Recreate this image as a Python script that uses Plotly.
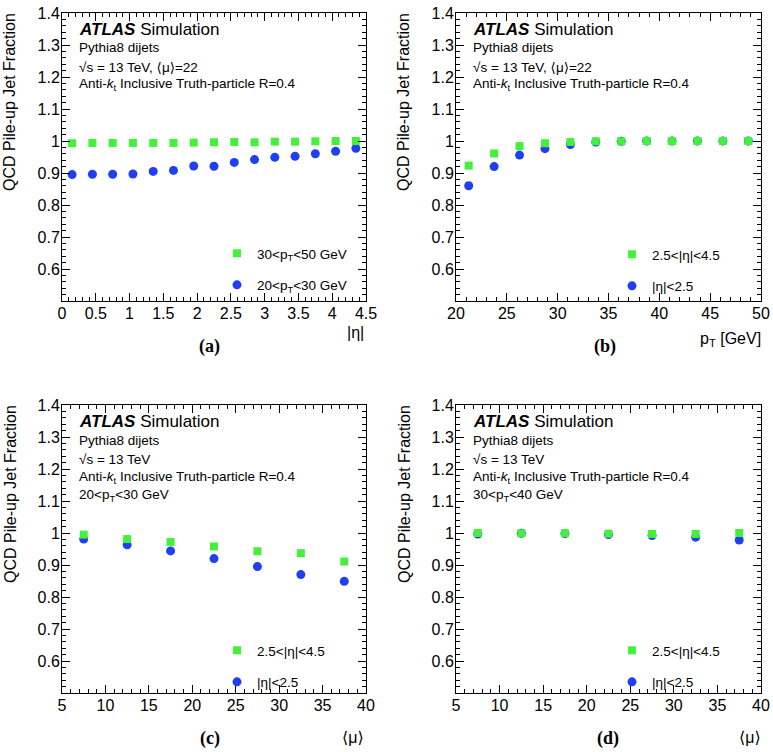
import plotly.graph_objects as go

# ---------------- data ----------------
eta_centers = [0.15, 0.45, 0.75, 1.05, 1.35, 1.65, 1.95, 2.25, 2.55, 2.85, 3.15, 3.45, 3.75, 4.05, 4.35]
eta_pt30_50 = [0.993, 0.994, 0.994, 0.994, 0.994, 0.994, 0.995, 0.996, 0.997, 0.996, 0.998, 0.998, 0.999, 1.000, 1.000]
eta_pt20_30 = [0.895, 0.896, 0.896, 0.897, 0.905, 0.908, 0.922, 0.921, 0.933, 0.942, 0.949, 0.952, 0.960, 0.968, 0.977]

pt_centers = [21.25, 23.75, 26.25, 28.75, 31.25, 33.75, 36.25, 38.75, 41.25, 43.75, 46.25, 48.75]
pt_fwd = [0.923, 0.961, 0.984, 0.993, 0.997, 0.999, 0.999, 1.000, 1.000, 1.000, 1.000, 1.000]
pt_cen = [0.860, 0.920, 0.956, 0.976, 0.989, 0.997, 0.999, 1.000, 1.000, 1.000, 1.000, 1.000]

mu_centers = [7.5, 12.5, 17.5, 22.5, 27.5, 32.5, 37.5]
mu_fwd_pt20_30 = [0.995, 0.981, 0.972, 0.958, 0.943, 0.937, 0.911]
mu_cen_pt20_30 = [0.981, 0.963, 0.944, 0.920, 0.895, 0.870, 0.849]
mu_fwd_pt30_40 = [1.000, 0.999, 0.999, 0.998, 0.997, 0.997, 1.000]
mu_cen_pt30_40 = [0.997, 0.999, 0.998, 0.995, 0.992, 0.987, 0.978]

y_tickvals = [0.6, 0.7, 0.8, 0.9, 1.0, 1.1, 1.2, 1.3, 1.4]
y_ticktext = ["0.6", "0.7", "0.8", "0.9", "1", "1.1", "1.2", "1.3", "1.4"]

GREEN = "#45f03c"
BLUE = "#1f3ff0"
FONT = "Liberation Sans, Arial, sans-serif"
SERIF = "Liberation Serif, Times New Roman, serif"
MU = '<span style="font-family:DejaVu Sans">⟨</span>μ<span style="font-family:DejaVu Sans">⟩</span>'

W, H = 773, 752


def px(x):
    return x / W


def py(y):
    return 1 - y / H


fig = go.Figure()

panels = [
    ("x", "y", "legend", eta_centers, eta_pt30_50, eta_pt20_30,
     "30&lt;p<sub>T</sub>&lt;50 GeV", "20&lt;p<sub>T</sub>&lt;30 GeV"),
    ("x2", "y2", "legend2", pt_centers, pt_fwd, pt_cen,
     "2.5&lt;|η|&lt;4.5", "|η|&lt;2.5"),
    ("x3", "y3", "legend3", mu_centers, mu_fwd_pt20_30, mu_cen_pt20_30,
     "2.5&lt;|η|&lt;4.5", "|η|&lt;2.5"),
    ("x4", "y4", "legend4", mu_centers, mu_fwd_pt30_40, mu_cen_pt30_40,
     "2.5&lt;|η|&lt;4.5", "|η|&lt;2.5"),
]

for i, (xa, ya, lg, xs, g, b, gn, bn) in enumerate(panels):
    fig.add_trace(go.Scatter(
        x=xs, y=b, mode="markers", xaxis=xa, yaxis=ya, legend=lg,
        name=bn, legendgroup=f"b{i}", legendrank=2,
        marker=dict(symbol="circle", size=9, color=BLUE),
    ))
    fig.add_trace(go.Scatter(
        x=xs, y=g, mode="markers", xaxis=xa, yaxis=ya, legend=lg,
        name=gn, legendgroup=f"g{i}", legendrank=1,
        marker=dict(symbol="square", size=8, color=GREEN),
    ))

x_dom_l = [px(62), px(366)]
x_dom_r = [px(456), px(761)]
y_dom_t = [py(301), py(13)]
y_dom_b = [py(693), py(405)]


def xaxis(dom, rng, dtick, mdtick, anchor):
    return dict(
        domain=dom, range=rng, anchor=anchor, dtick=dtick, tick0=rng[0],
        tickmode="linear", automargin=False,
        ticks="inside", ticklen=8, tickwidth=1, tickcolor="black",
        minor=dict(dtick=mdtick, tick0=rng[0], ticks="inside", ticklen=4,
                   tickwidth=1, tickcolor="black"),
        showline=True, linecolor="black", linewidth=1, mirror="allticks",
        showgrid=False, zeroline=False,
        tickfont=dict(family=FONT, size=16, color="black"),
        ticklabelstandoff=-2,
    )


def yaxis(dom, anchor):
    return dict(
        domain=dom, range=[0.5, 1.4], anchor=anchor, automargin=False,
        tickmode="array", tickvals=y_tickvals, ticktext=y_ticktext,
        ticks="inside", ticklen=8, tickwidth=1, tickcolor="black",
        minor=dict(dtick=0.02, tick0=0.5, ticks="inside", ticklen=4,
                   tickwidth=1, tickcolor="black"),
        showline=True, linecolor="black", linewidth=1, mirror="allticks",
        showgrid=False, zeroline=False,
        tickfont=dict(family=FONT, size=16, color="black"),
        ticklabelstandoff=-2,
    )


def legend(xl, ytop):
    return dict(
        x=px(xl), y=py(ytop), xanchor="left", yanchor="top",
        bgcolor="rgba(0,0,0,0)", borderwidth=0,
        font=dict(family=FONT, size=13.5, color="black"),
        traceorder="grouped", tracegroupgap=11, itemwidth=30,
    )


annotations = []


def txt(x, y, text, size=13, xanchor="left", font=FONT, angle=0):
    annotations.append(dict(
        x=px(x), y=py(y), xref="paper", yref="paper", text=text,
        showarrow=False, xanchor=xanchor, yanchor="middle", textangle=angle,
        font=dict(family=font, size=size, color="black"),
    ))


def panel_text(xl, top, lines):
    txt(xl, top + 16, "<b><i>ATLAS</i></b> Simulation", size=17)
    offs = [35, 54, 72, 90]
    for line, o in zip(lines, offs):
        txt(xl, top + o, line, size=13.5)


antikt = "Anti-<i>k</i><sub>t</sub> Inclusive Truth-particle R=0.4"
panel_text(77, 13, ["Pythia8 dijets", "√s = 13 TeV, " + MU + "=22", antikt])
panel_text(471, 13, ["Pythia8 dijets", "√s = 13 TeV, " + MU + "=22", antikt])
panel_text(77, 405, ["Pythia8 dijets", "√s = 13 TeV", antikt, "20&lt;p<sub>T</sub>&lt;30 GeV"])
panel_text(471, 405, ["Pythia8 dijets", "√s = 13 TeV", antikt, "30&lt;p<sub>T</sub>&lt;40 GeV"])

# axis titles
for xc, yc in [(10, 102), (404, 102), (10, 494), (404, 494)]:
    txt(xc, yc, "QCD Pile-up Jet Fraction", size=16, xanchor="center", angle=-90)

txt(366, 333, "|η|", size=16, xanchor="right")
txt(763, 339, "p<sub>T</sub> [GeV]", size=16, xanchor="right")
txt(366, 737, MU, size=16, xanchor="right")
txt(763, 737, MU, size=16, xanchor="right")

# panel labels
txt(209, 346, "<b>(a)</b>", size=18, xanchor="center", font=SERIF)
txt(605, 346, "<b>(b)</b>", size=18, xanchor="center", font=SERIF)
txt(210, 738, "<b>(c)</b>", size=18, xanchor="center", font=SERIF)
txt(608, 738, "<b>(d)</b>", size=18, xanchor="center", font=SERIF)

fig.update_layout(
    template="none",
    width=W, height=H, autosize=False,
    margin=dict(l=0, r=0, t=0, b=0, autoexpand=False),
    font=dict(family=FONT, color="black"),
    paper_bgcolor="white", plot_bgcolor="white",
    showlegend=True,
    xaxis=xaxis(x_dom_l, [0, 4.5], 0.5, 0.1, "y"),
    yaxis=yaxis(y_dom_t, "x"),
    xaxis2=xaxis(x_dom_r, [20, 50], 5, 1, "y2"),
    yaxis2=yaxis(y_dom_t, "x2"),
    xaxis3=xaxis(x_dom_l, [5, 40], 5, 1, "y3"),
    yaxis3=yaxis(y_dom_b, "x3"),
    xaxis4=xaxis(x_dom_r, [5, 40], 5, 1, "y4"),
    yaxis4=yaxis(y_dom_b, "x4"),
    legend=legend(217, 238),
    legend2=legend(612, 239),
    legend3=legend(217, 635),
    legend4=legend(612, 635),
    annotations=annotations,
)

fig.write_html("out.html", config={"displayModeBar": False},
               post_script="document.body.style.margin='0px';")
